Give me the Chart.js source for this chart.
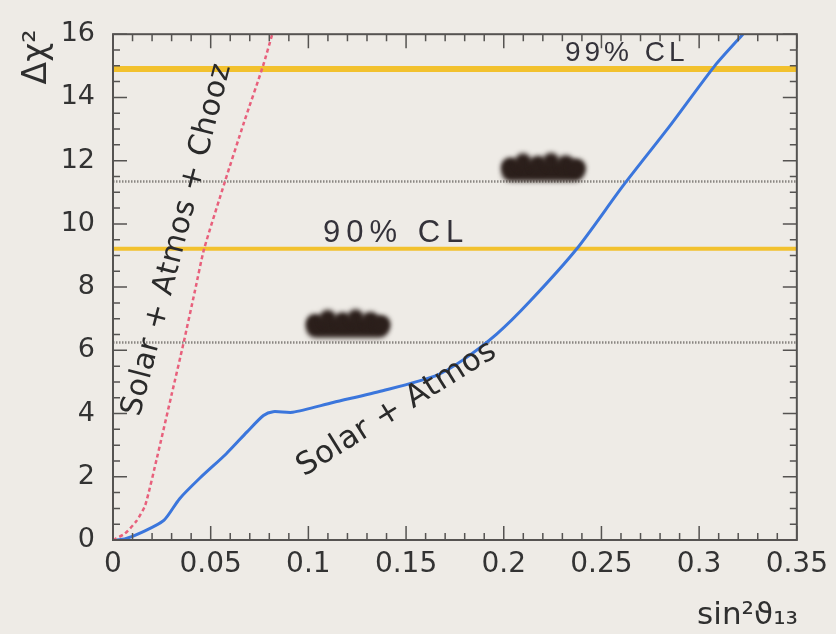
<!DOCTYPE html>
<html>
<head>
<meta charset="utf-8">
<script src="https://cdn.jsdelivr.net/npm/chart.js@4.4.1/dist/chart.umd.min.js"></script>
<style>
  html, body { margin: 0; padding: 0; background: #eeebe6; }
  #wrap { width: 836px; height: 634px; }
</style>
</head>
<body>
<div id="wrap"><canvas id="chi2Chart" width="836" height="634"></canvas></div>
<script>
// Delta chi^2 profiles as a function of sin^2(theta13)
const solarAtmosX = [0.002, 0.006, 0.015, 0.026, 0.034, 0.0445, 0.058, 0.0686, 0.077, 0.082, 0.092,
                     0.1126, 0.138, 0.165, 0.179, 0.1965, 0.2134, 0.2375, 0.261, 0.285, 0.308, 0.3224];
const solarAtmosY = [0, 0.03, 0.25, 0.62, 1.3, 1.96, 2.73, 3.42, 3.94, 4.06, 4.04,
                     4.35, 4.72, 5.19, 5.69, 6.52, 7.55, 9.22, 11.2, 13.1, 15.0, 16.0];

const withChoozX = [0, 0.006, 0.012, 0.0165, 0.0225, 0.030, 0.036, 0.042, 0.0466, 0.0573, 0.067, 0.0768, 0.0815];
const withChoozY = [0, 0.2, 0.6, 1.1, 2.6, 4.6, 6.2, 7.9, 9.2, 11.34, 13.2, 15.0, 16.0];

const clLevels = [9.21, 14.9];        // yellow bands
const dottedLevels = [6.25, 11.34];   // grey dotted references

const xMin = 0, xMax = 0.35, xStep = 0.05;
const yMin = 0, yMax = 16, yStep = 2;

const toPoints = (xs, ys) => xs.map((x, i) => ({ x: x, y: ys[i] }));
const levelLine = (v) => [{ x: xMin, y: v }, { x: xMax, y: v }];

const datasets = [
    {
        data: toPoints(solarAtmosX, solarAtmosY),
        borderColor: '#3b76dc',
        borderWidth: 3,
        tension: 0.25,
        pointRadius: 0
    },
    {
        data: toPoints(withChoozX, withChoozY),
        borderColor: '#e8607c',
        borderWidth: 2.5,
        borderDash: [4, 3],
        tension: 0.2,
        pointRadius: 0
    }
];
clLevels.forEach((v, i) => datasets.push({
    data: levelLine(v),
    borderColor: '#f2c12e',
    borderWidth: i === 1 ? 6 : 4,
    pointRadius: 0
}));
dottedLevels.forEach(v => datasets.push({
    data: levelLine(v),
    borderColor: '#8a8782',
    borderWidth: 2.5,
    borderDash: [1.5, 1.5],
    pointRadius: 0
}));

// scribbled-over marks, in data units
const smudges = [
    { x0: 0.099, x1: 0.141, y0: 6.35, y1: 7.3 },
    { x0: 0.199, x1: 0.241, y0: 11.3, y1: 12.25 }
];

function drawSmudge(ctx, sx, sy, s) {
    const x0 = sx.getPixelForValue(s.x0), x1 = sx.getPixelForValue(s.x1);
    const y0 = sy.getPixelForValue(s.y0), y1 = sy.getPixelForValue(s.y1);
    const h = y0 - y1, w = x1 - x0;
    ctx.save();
    ctx.filter = 'blur(2.5px)';
    ctx.fillStyle = '#2b1f1b';
    ctx.beginPath();
    ctx.roundRect(x0, y1 + h * 0.25, w, h * 0.7, h * 0.3);
    ctx.fill();
    const bumps = [[0.1, 0.45], [0.26, 0.3], [0.44, 0.38], [0.6, 0.28], [0.78, 0.36], [0.92, 0.5]];
    bumps.forEach(b => {
        ctx.beginPath();
        ctx.ellipse(x0 + w * b[0], y1 + h * b[1], w * 0.1, h * 0.28, 0, 0, Math.PI * 2);
        ctx.fill();
    });
    ctx.restore();
}

function rotatedText(ctx, text, x, y, angleDeg, font, spacing) {
    ctx.save();
    ctx.translate(x, y);
    ctx.rotate(angleDeg * Math.PI / 180);
    ctx.font = font;
    ctx.letterSpacing = spacing || '0px';
    ctx.textAlign = 'center';
    ctx.textBaseline = 'middle';
    ctx.fillText(text, 0, 0);
    ctx.restore();
}

const framePlugin = {
    id: 'frame',
    beforeDraw(chart) {
        const ctx = chart.ctx;
        ctx.save();
        ctx.fillStyle = '#eeebe6';
        ctx.fillRect(0, 0, chart.width, chart.height);
        ctx.restore();
    },
    afterDatasetsDraw(chart) {
        const ctx = chart.ctx;
        const sx = chart.scales.x, sy = chart.scales.y;
        smudges.forEach(s => drawSmudge(ctx, sx, sy, s));

        ctx.fillStyle = '#2a2a2a';
        rotatedText(ctx, 'Solar + Atmos + Chooz', sx.getPixelForValue(0.033), sy.getPixelForValue(9.5),
            -75.5, '30px "DejaVu Sans"', '0.5px');
        rotatedText(ctx, 'Solar + Atmos', sx.getPixelForValue(0.1453), sy.getPixelForValue(4.14),
            -32, '31px "DejaVu Sans"', '0.5px');

        ctx.save();
        ctx.fillStyle = '#34323a';
        ctx.textAlign = 'left';
        ctx.textBaseline = 'alphabetic';
        ctx.font = '31px "Liberation Sans"';
        ctx.letterSpacing = '6px';
        ctx.fillText('90% CL', sx.getPixelForValue(0.1075), sy.getPixelForValue(9.43));
        ctx.font = '28px "Liberation Sans"';
        ctx.letterSpacing = '4px';
        ctx.fillText('99% CL', sx.getPixelForValue(0.2313), sy.getPixelForValue(15.16));
        ctx.restore();
    },
    afterDraw(chart) {
        const ctx = chart.ctx;
        const a = chart.chartArea;
        const sx = chart.scales.x, sy = chart.scales.y;
        ctx.save();
        ctx.strokeStyle = '#555351';
        ctx.lineWidth = 2;
        ctx.strokeRect(a.left, a.top, a.right - a.left, a.bottom - a.top);

        // inward ticks on all four sides
        ctx.lineWidth = 1.5;
        ctx.beginPath();
        for (let i = 0; i <= 35; i++) {
            const v = xMin + i * 0.01;
            const px = sx.getPixelForValue(v);
            const len = i % 5 === 0 ? 14 : 7;
            ctx.moveTo(px, a.bottom); ctx.lineTo(px, a.bottom - len);
            ctx.moveTo(px, a.top); ctx.lineTo(px, a.top + len);
        }
        for (let i = 0; i <= 32; i++) {
            const v = yMin + i * 0.5;
            const py = sy.getPixelForValue(v);
            const len = i % 4 === 0 ? 14 : 7;
            ctx.moveTo(a.left, py); ctx.lineTo(a.left + len, py);
            ctx.moveTo(a.right, py); ctx.lineTo(a.right - len, py);
        }
        ctx.stroke();

        // axis titles
        ctx.fillStyle = '#2f2f2f';
        rotatedText(ctx, 'Δχ²', 37, 57, -90, '33px "DejaVu Sans"');
        ctx.font = '31px "DejaVu Sans"';
        ctx.textAlign = 'right';
        ctx.textBaseline = 'alphabetic';
        ctx.fillText('sin²ϑ₁₃', 798, 624);
        ctx.restore();
    }
};

new Chart(document.getElementById('chi2Chart').getContext('2d'), {
    type: 'line',
    data: { datasets: datasets },
    options: {
        responsive: false,
        animation: false,
        layout: { padding: { top: 25, right: 39, left: 0, bottom: 0 } },
        plugins: { legend: { display: false }, tooltip: { enabled: false } },
        scales: {
            x: {
                type: 'linear',
                min: xMin,
                max: xMax,
                afterFit: s => { s.height = 94; },
                grid: { display: false, drawTicks: false },
                border: { display: false },
                ticks: {
                    stepSize: xStep,
                    padding: 8,
                    color: '#333333',
                    font: { family: 'DejaVu Sans', size: 28 },
                    maxRotation: 0,
                    callback: v => String(+v.toFixed(2))
                }
            },
            y: {
                min: yMin,
                max: yMax,
                afterFit: s => { s.width = 113; },
                grid: { display: false, drawTicks: false },
                border: { display: false },
                ticks: {
                    stepSize: yStep,
                    padding: 18,
                    color: '#333333',
                    font: { family: 'DejaVu Sans', size: 27 }
                }
            }
        }
    },
    plugins: [framePlugin]
});
</script>
</body>
</html>
